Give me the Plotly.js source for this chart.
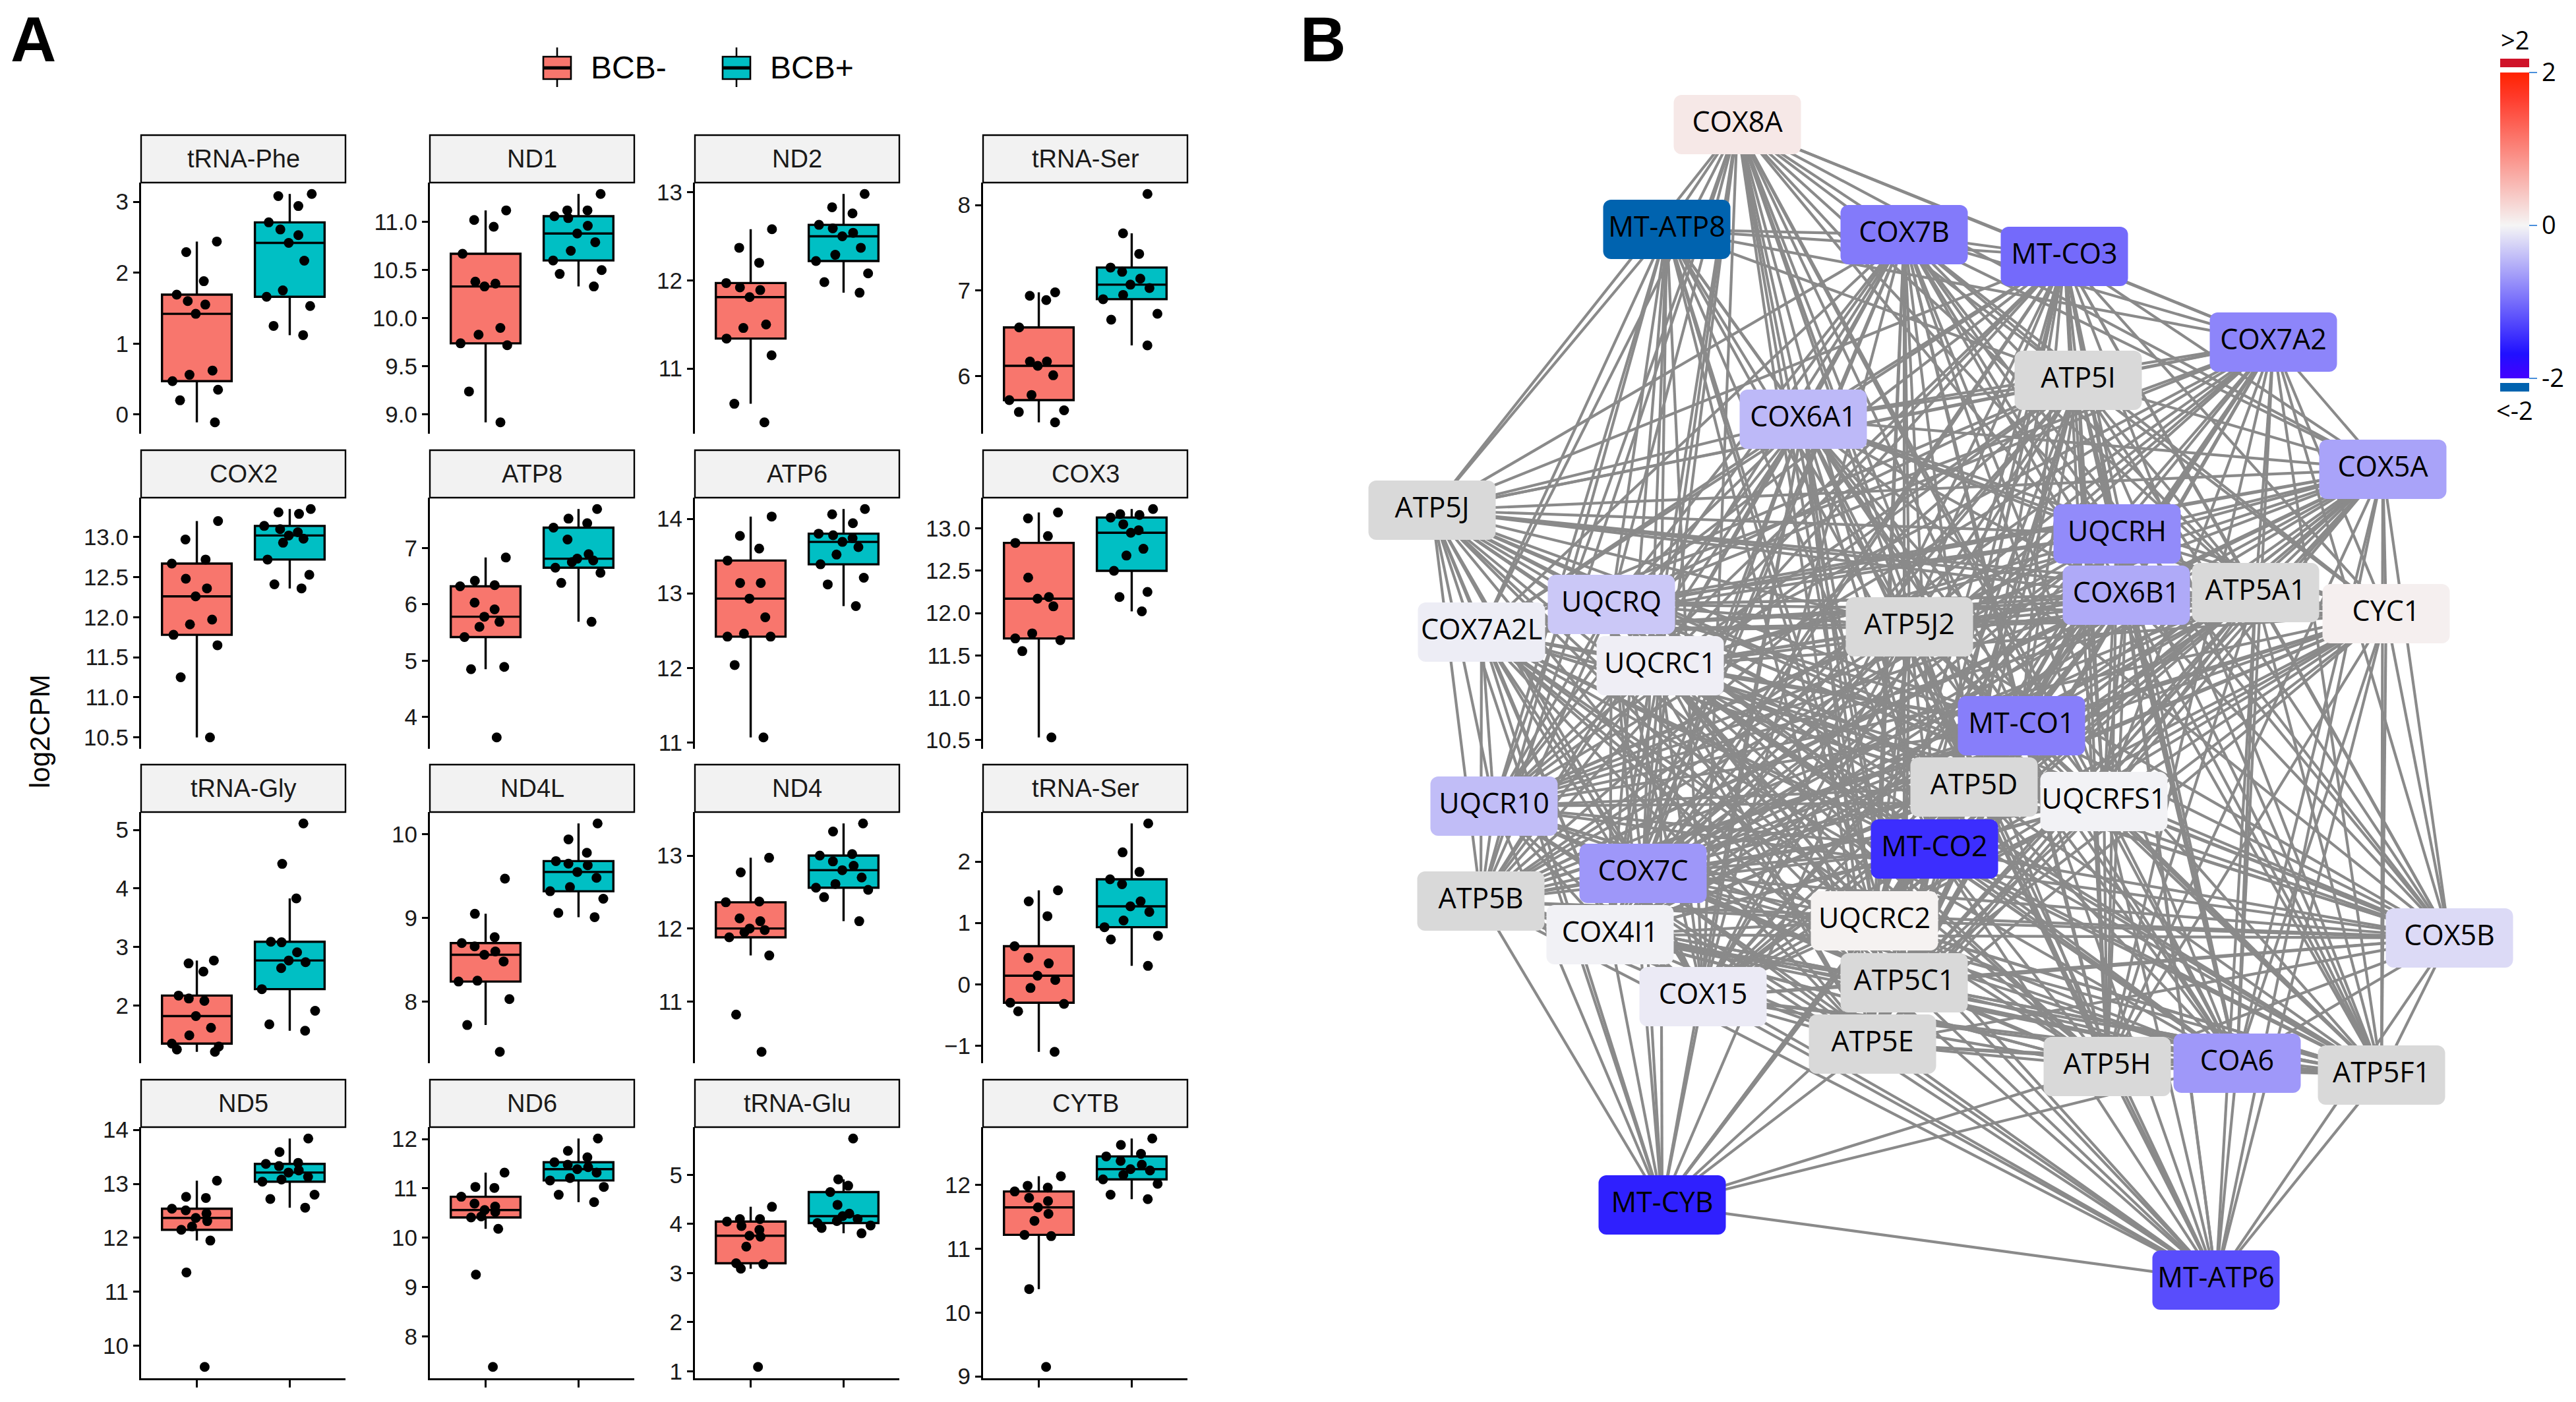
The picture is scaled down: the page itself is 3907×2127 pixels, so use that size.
<!DOCTYPE html>
<html><head><meta charset="utf-8">
<script src="https://cdn.plot.ly/plotly-3.0.1.min.js"></script>
<style>html,body{margin:0;padding:0;background:#fff}</style>
</head><body><div id="chart" style="width:3907px;height:2127px"></div>
<script>
// ---------------- Panel A data ----------------
const genes = ["tRNA-Phe","ND1","ND2","tRNA-Ser","COX2","ATP8","ATP6","COX3","tRNA-Gly","ND4L","ND4","tRNA-Ser","ND5","ND6","tRNA-Glu","CYTB"];
const groupNames = ["BCB-","BCB+"];
const bcbNeg = [
 [2.44,2.29,1.88,1.69,1.60,1.55,1.42,0.62,0.56,0.47,0.35,0.20,-0.11],
 [11.12,11.02,10.95,10.67,10.38,10.36,10.33,9.90,9.83,9.74,9.72,9.24,8.92],
 [12.58,12.37,12.20,11.97,11.92,11.89,11.81,11.50,11.46,11.34,11.15,10.60,10.39],
 [6.98,6.94,6.89,6.57,6.17,6.17,6.12,6.01,5.78,5.72,5.60,5.58,5.46],
 [13.20,12.97,12.72,12.67,12.48,12.36,12.26,11.97,11.91,11.78,11.65,11.25,10.50],
 [6.83,6.42,6.34,6.32,6.03,5.91,5.78,5.69,5.60,5.42,4.89,4.85,3.64],
 [14.03,13.77,13.60,13.44,13.14,13.14,12.93,12.68,12.46,12.42,12.42,12.04,11.07],
 [13.19,13.12,12.91,12.83,12.42,12.19,12.17,12.08,11.76,11.70,11.68,11.55,10.53],
 [2.77,2.72,2.58,2.17,2.12,2.08,1.82,1.62,1.49,1.35,1.30,1.25,1.21],
 [9.47,9.05,8.77,8.70,8.66,8.60,8.56,8.48,8.25,8.24,8.03,7.72,7.40],
 [12.97,12.77,12.37,12.36,12.14,12.10,12.00,11.98,11.95,11.88,11.63,10.82,10.31],
 [1.53,1.35,1.11,0.62,0.43,0.34,0.14,0.07,-0.06,-0.30,-0.32,-0.44,-1.10],
 [13.06,12.76,12.74,12.54,12.51,12.45,12.37,12.31,12.21,12.15,11.95,11.36,9.61],
 [11.32,11.03,11.01,10.83,10.69,10.63,10.56,10.52,10.43,10.41,10.18,9.25,7.38],
 [4.35,4.10,4.10,4.05,3.96,3.88,3.76,3.74,3.54,3.20,3.18,3.09,1.09],
 [12.14,11.99,11.96,11.90,11.80,11.75,11.65,11.55,11.44,11.22,11.20,10.37,9.15]
];
const bcbPos = [
 [3.11,3.08,2.94,2.71,2.61,2.53,2.42,2.17,1.75,1.66,1.53,1.25,1.12],
 [11.29,11.12,11.12,11.06,11.04,10.96,10.88,10.79,10.70,10.60,10.50,10.46,10.33],
 [12.98,12.83,12.76,12.63,12.59,12.54,12.50,12.37,12.29,12.22,12.08,11.98,11.86],
 [8.13,7.67,7.43,7.27,7.22,7.14,7.07,7.03,6.95,6.90,6.73,6.66,6.36],
 [13.35,13.31,13.29,13.14,13.10,13.06,13.02,12.98,12.93,12.72,12.53,12.41,12.36],
 [7.69,7.52,7.44,7.36,7.15,6.89,6.81,6.78,6.75,6.65,6.56,6.38,5.69],
 [14.13,14.06,13.94,13.80,13.78,13.74,13.69,13.62,13.52,13.39,13.21,13.12,12.83],
 [13.23,13.17,13.16,13.13,13.05,12.98,12.95,12.76,12.68,12.50,12.25,12.19,12.02],
 [5.11,4.42,3.83,3.09,3.08,2.91,2.77,2.74,2.64,2.28,1.91,1.68,1.57],
 [10.13,9.94,9.78,9.68,9.65,9.63,9.55,9.48,9.37,9.32,9.23,9.06,9.01],
 [13.44,13.33,13.02,13.00,12.92,12.86,12.80,12.70,12.61,12.56,12.53,12.43,12.10],
 [2.62,2.15,1.83,1.71,1.63,1.35,1.27,1.18,1.04,0.93,0.79,0.73,0.30],
 [13.84,13.59,13.39,13.37,13.33,13.25,13.21,13.13,13.08,13.04,12.80,12.72,12.56],
 [12.01,11.76,11.63,11.53,11.48,11.43,11.39,11.32,11.21,11.16,11.03,10.87,10.72],
 [5.74,4.91,4.78,4.65,4.39,4.21,4.16,4.10,4.06,4.02,3.97,3.92,3.81],
 [12.73,12.63,12.49,12.45,12.38,12.32,12.25,12.23,12.16,12.09,12.02,11.85,11.78]
];
const tickStep = [1,0.5,1,1,0.5,1,1,0.5,1,1,1,1,1,1,1,1];

// ---------------- Panel B data ----------------
const nodeNames = ["COX8A","MT-ATP8","COX7B","MT-CO3","COX7A2","ATP5I","COX6A1","COX5A","ATP5J","UQCRH","COX6B1","ATP5A1","CYC1","UQCRQ","COX7A2L","UQCRC1","ATP5J2","MT-CO1","ATP5D","UQCRFS1","UQCR10","MT-CO2","COX7C","ATP5B","UQCRC2","COX4I1","COX5B","COX15","ATP5C1","ATP5E","ATP5H","COA6","ATP5F1","MT-CYB","MT-ATP6"];
const nodeX = [2635,2528,2888,3131,3448,3152,2735,3614,2172,3211,3225,3421,3619,2444,2247,2518,2896,3066,2994,3191,2266,2934,2492,2246,2843,2442,3715,2583,2888,2840,3196,3393,3612,2521,3361];
const nodeY = [189,348,356,389,519,577,636,712,774,810,903,899,931,917,959,1010,951,1101,1194,1216,1223,1288,1325,1367,1397,1418,1423,1512,1491,1584,1618,1613,1631,1828,1942];
const nodeLogFC = [0.12,-2.5,-0.90,-1.02,-0.82,null,-0.44,-0.60,null,-0.78,-0.55,null,0.05,-0.33,-0.06,-0.05,null,-0.87,null,-0.02,-0.41,-1.46,-0.69,null,0.03,-0.03,-0.20,-0.08,null,null,null,-0.68,null,-1.56,-1.23];
const coreClique = ["COX7B","MT-CO3","COX7A2","ATP5I","COX6A1","COX5A","ATP5J","UQCRH","COX6B1","ATP5A1","CYC1","UQCRQ","COX7A2L","UQCRC1","ATP5J2","MT-CO1","ATP5D","UQCRFS1","UQCR10","MT-CO2","COX7C","ATP5B","UQCRC2","COX4I1","COX5B","COX15","ATP5C1","ATP5E","ATP5H","COA6","ATP5F1"];
const linksCOX8A = ["MT-ATP8","COX7B","MT-CO3","COX7A2","ATP5I","COX6A1","ATP5J","UQCRH","COX6B1","ATP5A1","UQCRQ","COX7A2L","UQCRC1","ATP5J2","MT-CO1","ATP5D","UQCRFS1","UQCR10","MT-CO2","COX7C","ATP5B","UQCRC2","COX4I1","COX15","ATP5C1","ATP5E","ATP5H","COA6","COX5A"];
const linksMTATP8 = ["COX7B","MT-CO3","ATP5J","COX6A1","UQCRQ","COX7A2L","UQCRC1","UQCR10","COX7C","ATP5B","COX4I1","ATP5J2","UQCRC2","COX15","ATP5C1","ATP5E","MT-CO1","MT-CO2","ATP5D","ATP5I","COX7A2"];
const linksMTCYB = ["ATP5J","COX7A2L","UQCRQ","UQCRC1","UQCR10","ATP5B","COX4I1","COX7C","COX15","ATP5E","ATP5C1","UQCRC2","MT-CO2","ATP5D","MT-CO1","ATP5J2","COX6A1","ATP5H","COA6","MT-ATP6"];
const linksMTATP6 = ["ATP5F1","COX5B","COA6","ATP5H","ATP5E","ATP5C1","UQCRC2","COX15","COX4I1","ATP5B","COX7C","UQCR10","MT-CO2","ATP5D","MT-CO1","UQCRFS1","ATP5A1","COX6B1","UQCRH","ATP5J2","CYC1","COX5A","COX7A2L","UQCRC1"];

// ---------------- geometry / style ----------------
const W = 3907, H = 2127;
const colLeft = [214, 652, 1054, 1491], panelW = 310;
const rowTop = [205, 683, 1160, 1638], stripH = 72, plotH = 381;
const fontA = "Liberation Sans, Arial, Helvetica, sans-serif";
const fontB = "Open Sans, sans-serif";
const fillNeg = "#F8766D", fillPos = "#00BFC4";
const px = x => x / W, py = y => 1 - y / H;

const traces = [];
const layout = {
  width: W, height: H, margin: {l:0, r:0, t:0, b:0},
  paper_bgcolor: "white", plot_bgcolor: "rgba(0,0,0,0)",
  showlegend: false, barmode: "overlay", hovermode: false,
  shapes: [], annotations: []
};

genes.forEach((g, i) => {
  const r = Math.floor(i / 4), c = i % 4, k = i + 1;
  const all = bcbNeg[i].concat(bcbPos[i]);
  const lo = Math.min(...all), hi = Math.max(...all), pad = 0.05 * (hi - lo);
  const x0 = colLeft[c], x1 = colLeft[c] + panelW;
  const yTop = rowTop[r] + stripH, yBot = yTop + plotH;
  const bottom = (r === 3);
  layout["xaxis" + k] = {
    domain: [px(x0), px(x1)], range: [0.4, 2.6], anchor: "y" + k,
    showgrid: false, zeroline: false, showline: bottom, linecolor: "black", linewidth: 3,
    ticks: bottom ? "outside" : "", tickvals: [1, 2], ticklen: 11, tickwidth: 3, tickcolor: "black",
    showticklabels: false, fixedrange: true
  };
  layout["yaxis" + k] = {
    domain: [py(yBot), py(yTop)], range: [lo - pad, hi + pad], anchor: "x" + k,
    showgrid: false, zeroline: false, showline: true, linecolor: "black", linewidth: 3,
    ticks: "outside", ticklen: 9, tickwidth: 3, tickcolor: "black",
    dtick: tickStep[i], tick0: 0, tickformat: tickStep[i] < 1 ? ".1f" : "",
    tickfont: {family: fontA, size: 35, color: "#1a1a1a"}, fixedrange: true
  };
  [[bcbNeg[i], 1, fillNeg, groupNames[0]], [bcbPos[i], 2, fillPos, groupNames[1]]].forEach(([vals, pos, fill, nm]) => {
    traces.push({
      type: "box", y: vals, x0: pos, name: nm, width: 0.75,
      xaxis: "x" + k, yaxis: "y" + k,
      boxpoints: "all", jitter: 1.0, pointpos: 0, quartilemethod: "inclusive",
      whiskerwidth: 0, fillcolor: fill, line: {color: "black", width: 3.4},
      marker: {color: "black", size: 15, line: {width: 0}}
    });
  });
  // strip
  layout.shapes.push({type: "rect", xref: "paper", yref: "paper",
    x0: px(x0), x1: px(x1), y0: py(rowTop[r] + stripH), y1: py(rowTop[r]),
    fillcolor: "#F2F2F2", line: {color: "black", width: 2.4}});
  layout.annotations.push({xref: "paper", yref: "paper", x: px((x0 + x1) / 2), y: py(rowTop[r] + stripH / 2),
    text: g, showarrow: false, xanchor: "center", yanchor: "middle",
    font: {family: fontA, size: 38, color: "#1a1a1a"}});
});

// Y title, panel letters
layout.annotations.push({xref:"paper", yref:"paper", x: px(60), y: py(1110), text: "log2CPM", textangle: -90,
  showarrow:false, xanchor:"center", yanchor:"middle", font:{family: fontA, size: 42, color:"black"}});
layout.annotations.push({xref:"paper", yref:"paper", x: px(14), y: py(60), text: "<b>A</b>",
  showarrow:false, xanchor:"left", yanchor:"middle", font:{family: fontA, size: 96, color:"black"}});
layout.annotations.push({xref:"paper", yref:"paper", x: px(1970), y: py(60), text: "<b>B</b>",
  showarrow:false, xanchor:"left", yanchor:"middle", font:{family: fontA, size: 96, color:"black"}});

// Legend (ggplot style boxplot keys)
[[824, fillNeg, groupNames[0]], [1096, fillPos, groupNames[1]]].forEach(([lx, fill, nm]) => {
  const cx = lx + 21;
  layout.shapes.push({type:"line", xref:"paper", yref:"paper", x0:px(cx), x1:px(cx), y0:py(72), y1:py(86), line:{color:"black", width:2.6}});
  layout.shapes.push({type:"line", xref:"paper", yref:"paper", x0:px(cx), x1:px(cx), y0:py(120), y1:py(132), line:{color:"black", width:2.6}});
  layout.shapes.push({type:"rect", xref:"paper", yref:"paper", x0:px(lx), x1:px(lx+42), y0:py(120), y1:py(86), fillcolor: fill, line:{color:"black", width:2.6}});
  layout.shapes.push({type:"line", xref:"paper", yref:"paper", x0:px(lx), x1:px(lx+42), y0:py(103), y1:py(103), line:{color:"black", width:5}});
  layout.annotations.push({xref:"paper", yref:"paper", x: px(lx + 70), y: py(102), text: nm, showarrow:false,
    xanchor:"left", yanchor:"middle", font:{family: fontA, size: 48, color:"black"}});
});

// ---------------- Panel B ----------------
const bx0 = 1950;
layout.xaxis17 = {domain:[px(bx0), 1], range:[bx0, W], anchor:"y17", visible:false, fixedrange:true};
layout.yaxis17 = {domain:[0, 1], range:[H, 0], anchor:"x17", visible:false, fixedrange:true};
layout.xaxis18 = {domain:[px(bx0), 1], range:[bx0, W], anchor:"y18", overlaying:"x17", visible:false, fixedrange:true};
layout.yaxis18 = {domain:[0, 1], range:[H, 0], anchor:"x18", overlaying:"y17", visible:false, fixedrange:true};

const idx = {}; nodeNames.forEach((n, i) => idx[n] = i);
const edgeSet = new Set(); const edges = [];
function addEdge(a, b) {
  const i = idx[a], j = idx[b]; if (i === undefined || j === undefined || i === j) return;
  const key = Math.min(i,j) + "-" + Math.max(i,j);
  if (!edgeSet.has(key)) { edgeSet.add(key); edges.push([i, j]); }
}
for (let a = 0; a < coreClique.length; a++) for (let b = a + 1; b < coreClique.length; b++) addEdge(coreClique[a], coreClique[b]);
linksCOX8A.forEach(n => addEdge("COX8A", n));
linksMTATP8.forEach(n => addEdge("MT-ATP8", n));
linksMTCYB.forEach(n => addEdge("MT-CYB", n));
linksMTATP6.forEach(n => addEdge("MT-ATP6", n));
const ex = [], ey = [];
edges.forEach(([i, j]) => { ex.push(nodeX[i], nodeX[j], null); ey.push(nodeY[i], nodeY[j], null); });
traces.push({type:"scatter", mode:"lines", x: ex, y: ey, xaxis:"x17", yaxis:"y17",
  line:{color:"#8A8A8A", width:4.2}, hoverinfo:"skip", connectgaps:false});

const nodeW = 193, nodeH = 90;
const colorScale = [[0,"#4400FF"],[0.08,"#2010FF"],[0.5,"#F5F5F5"],[0.92,"#FF3A2A"],[1,"#FF2200"]];
const inR = {x:[], y:[], base:[], c:[]}, gray = {x:[], y:[], base:[]}, low = {x:[], y:[], base:[]};
nodeNames.forEach((n, i) => {
  const v = nodeLogFC[i];
  const tgt = (v === null) ? gray : (v < -2 ? low : inR);
  tgt.x.push(nodeW); tgt.y.push(nodeY[i]); tgt.base.push(nodeX[i] - nodeW / 2);
  if (tgt === inR) inR.c.push(v);
});
traces.push({type:"bar", orientation:"h", xaxis:"x18", yaxis:"y18", x: gray.x, y: gray.y, base: gray.base,
  width: nodeH, marker:{color:"#D9D9D9", cornerradius: 12, line:{width:0}}, hoverinfo:"skip"});
traces.push({type:"bar", orientation:"h", xaxis:"x18", yaxis:"y18", x: low.x, y: low.y, base: low.base,
  width: nodeH, marker:{color:"#0063AF", cornerradius: 12, line:{width:0}}, hoverinfo:"skip"});
traces.push({type:"bar", orientation:"h", xaxis:"x18", yaxis:"y18", x: inR.x, y: inR.y, base: inR.base,
  width: nodeH, hoverinfo:"skip",
  marker:{color: inR.c, colorscale: colorScale, cmin:-2, cmax:2, cornerradius: 12, line:{width:0},
    showscale: true,
    colorbar:{x: px(3792), xanchor:"left", y: py(342), yanchor:"middle", len: 464, lenmode:"pixels",
      thickness: 44, thicknessmode:"pixels", outlinewidth: 0, xpad: 0, ypad: 0,
      tickvals:[-2,0,2], ticktext:["-2","0","2"], ticks:"outside", ticklen: 12, tickwidth: 2.5, tickcolor:"#4A8FDB",
      tickfont:{family: fontB, size: 38, color:"black"}}}});
traces.push({type:"scatter", mode:"text", xaxis:"x18", yaxis:"y18", x: nodeX, y: nodeY, text: nodeNames,
  textposition:"middle center", textfont:{family: fontB, size: 43, color:"black"}, hoverinfo:"skip"});

// colorbar out-of-range caps
layout.shapes.push({type:"rect", xref:"paper", yref:"paper", x0:px(3792), x1:px(3836), y0:py(102), y1:py(89), fillcolor:"#CF1229", line:{width:0}});
layout.shapes.push({type:"rect", xref:"paper", yref:"paper", x0:px(3792), x1:px(3836), y0:py(594), y1:py(581), fillcolor:"#0063AF", line:{width:0}});
layout.annotations.push({xref:"paper", yref:"paper", x:px(3814), y:py(60), text:">2", showarrow:false, xanchor:"center", yanchor:"middle", font:{family: fontB, size: 38, color:"black"}});
layout.annotations.push({xref:"paper", yref:"paper", x:px(3814), y:py(622), text:"<-2", showarrow:false, xanchor:"center", yanchor:"middle", font:{family: fontB, size: 38, color:"black"}});

Plotly.newPlot("chart", traces, layout, {staticPlot: true, displayModeBar: false});
</script></body></html>
